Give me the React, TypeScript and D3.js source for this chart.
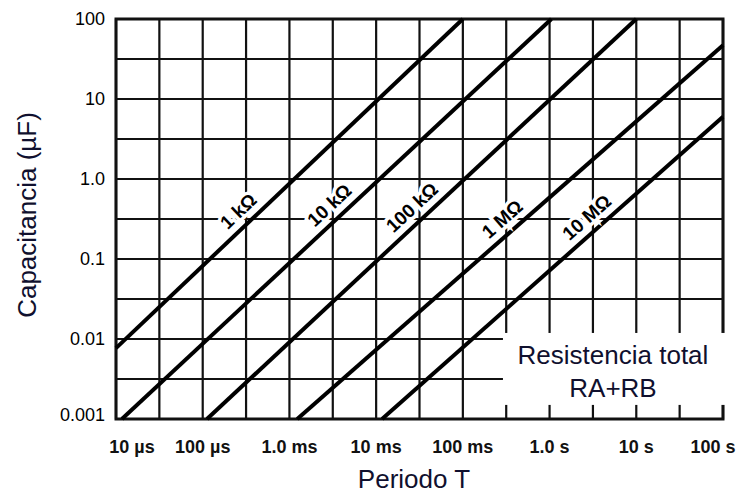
import * as d3 from "d3";

// x axis: period T (seconds), log decades
const periodTicks = [1e-5, 1e-4, 1e-3, 1e-2, 1e-1, 1, 10, 100];
const periodLabels = ["10 µs", "100 µs", "1.0 ms", "10 ms", "100 ms", "1.0 s", "10 s", "100 s"];

// y axis: capacitance (µF)
const capTicks = [100, 10, 1, 0.1, 0.01, 0.001];
const capLabels = ["100", "10", "1.0", "0.1", "0.01", "0.001"];

// total resistance lines, endpoints as [period s, capacitance µF]
const resistances = ["1 kΩ", "10 kΩ", "100 kΩ", "1 MΩ", "10 MΩ"];
const lineStart: [number, number][] = [
  [1e-5, 0.0077],
  [1.17e-5, 0.001],
  [1.12e-4, 0.001],
  [1.23e-3, 0.001],
  [0.0117, 0.001],
];
const lineEnd: [number, number][] = [
  [0.1, 100],
  [1.05, 100],
  [10, 100],
  [100, 47],
  [100, 6.0],
];
// period where each resistance label sits along its line
const labelPeriod = [3.4e-4, 3.8e-3, 0.034, 0.37, 3.5];

const W = 743;
const H = 495;

export default function App() {
  const x = d3.scaleLog().domain([1e-5, 100]).range([116, 723]);
  const y = d3.scaleLog().domain([0.001, 100]).range([419, 19]);

  // grid every half decade
  const vGrid = d3.range(0, 15).map((k) => 1e-5 * Math.pow(10, k / 2));
  const hGrid = d3.range(0, 11).map((k) => 0.001 * Math.pow(10, k / 2));

  const line = d3
    .line<[number, number]>()
    .x((d) => x(d[0]))
    .y((d) => y(d[1]));

  const labelAt = (i: number) => {
    const [t0, c0] = lineStart[i];
    const [t1, c1] = lineEnd[i];
    const f = (Math.log10(labelPeriod[i]) - Math.log10(t0)) / (Math.log10(t1) - Math.log10(t0));
    const c = Math.pow(10, Math.log10(c0) + f * (Math.log10(c1) - Math.log10(c0)));
    const ang = (Math.atan2(y(c1) - y(c0), x(t1) - x(t0)) * 180) / Math.PI;
    return { px: x(labelPeriod[i]), py: y(c), ang };
  };

  const sans = "'Liberation Sans', Arial, Helvetica, sans-serif";
  const navy = "#10102e";

  return (
    <svg
      width={W}
      height={H}
      style={{ position: "absolute", left: 0, top: 0, background: "#fff" }}
      fontFamily={sans}
    >
      {/* grid */}
      <g stroke="#111" strokeWidth={2.2}>
        {vGrid.map((t, i) => (
          <line key={"v" + i} x1={x(t)} x2={x(t)} y1={y(100)} y2={y(0.001)} />
        ))}
        {hGrid.map((c, i) => (
          <line key={"h" + i} x1={x(1e-5)} x2={x(100)} y1={y(c)} y2={y(c)} />
        ))}
      </g>
      <rect
        x={x(1e-5)}
        y={y(100)}
        width={x(100) - x(1e-5)}
        height={y(0.001) - y(100)}
        fill="none"
        stroke="#111"
        strokeWidth={3}
      />

      {/* legend box */}
      <rect
        x={x(0.29)}
        y={y(0.0119)}
        width={x(100) - x(0.29) + 4}
        height={y(0.0015) - y(0.0119)}
        fill="#fff"
      />
      <text x={(x(0.29) + x(100)) / 2} y={y(0.0119) + 31} textAnchor="middle" fontSize={26} fill={navy}>
        Resistencia total
      </text>
      <text x={(x(0.29) + x(100)) / 2} y={y(0.0119) + 64} textAnchor="middle" fontSize={26} fill={navy}>
        RA+RB
      </text>

      {/* resistance lines */}
      <g fill="none" stroke="#000" strokeWidth={4}>
        {resistances.map((r, i) => (
          <path key={r} d={line([lineStart[i], lineEnd[i]]) ?? ""} />
        ))}
      </g>
      {resistances.map((r, i) => {
        const { px, py, ang } = labelAt(i);
        return (
          <text
            key={"l" + r}
            transform={`translate(${px},${py}) rotate(${ang})`}
            y={-15}
            textAnchor="middle"
            dominantBaseline="central"
            fontSize={19}
            fontWeight="bold"
            fill="#000"
            stroke="#fff"
            strokeWidth={7}
            paintOrder="stroke"
          >
            {r}
          </text>
        );
      })}

      {/* y tick labels */}
      {capTicks.map((c, i) => (
        <text
          key={"yt" + i}
          x={105}
          y={y(c) + (i === capTicks.length - 1 ? -4 : 0)}
          textAnchor="end"
          dominantBaseline="central"
          fontSize={18}
          fill="#000"
        >
          {capLabels[i]}
        </text>
      ))}

      {/* x tick labels */}
      {periodTicks.map((t, i) => (
        <text
          key={"xt" + i}
          x={x(t) + (i === 0 ? 16 : i === periodTicks.length - 1 ? -10 : 0)}
          y={447}
          textAnchor="middle"
          dominantBaseline="central"
          fontSize={18}
          fontWeight="bold"
          fill="#111"
        >
          {periodLabels[i]}
        </text>
      ))}

      {/* axis titles */}
      <text x={414} y={488} textAnchor="middle" fontSize={26} fill={navy}>
        Periodo T
      </text>
      <text
        transform={`translate(36,${(y(100) + y(0.001)) / 2 - 4}) rotate(-90)`}
        textAnchor="middle"
        fontSize={26}
        fill={navy}
      >
        Capacitancia (µF)
      </text>
    </svg>
  );
}
